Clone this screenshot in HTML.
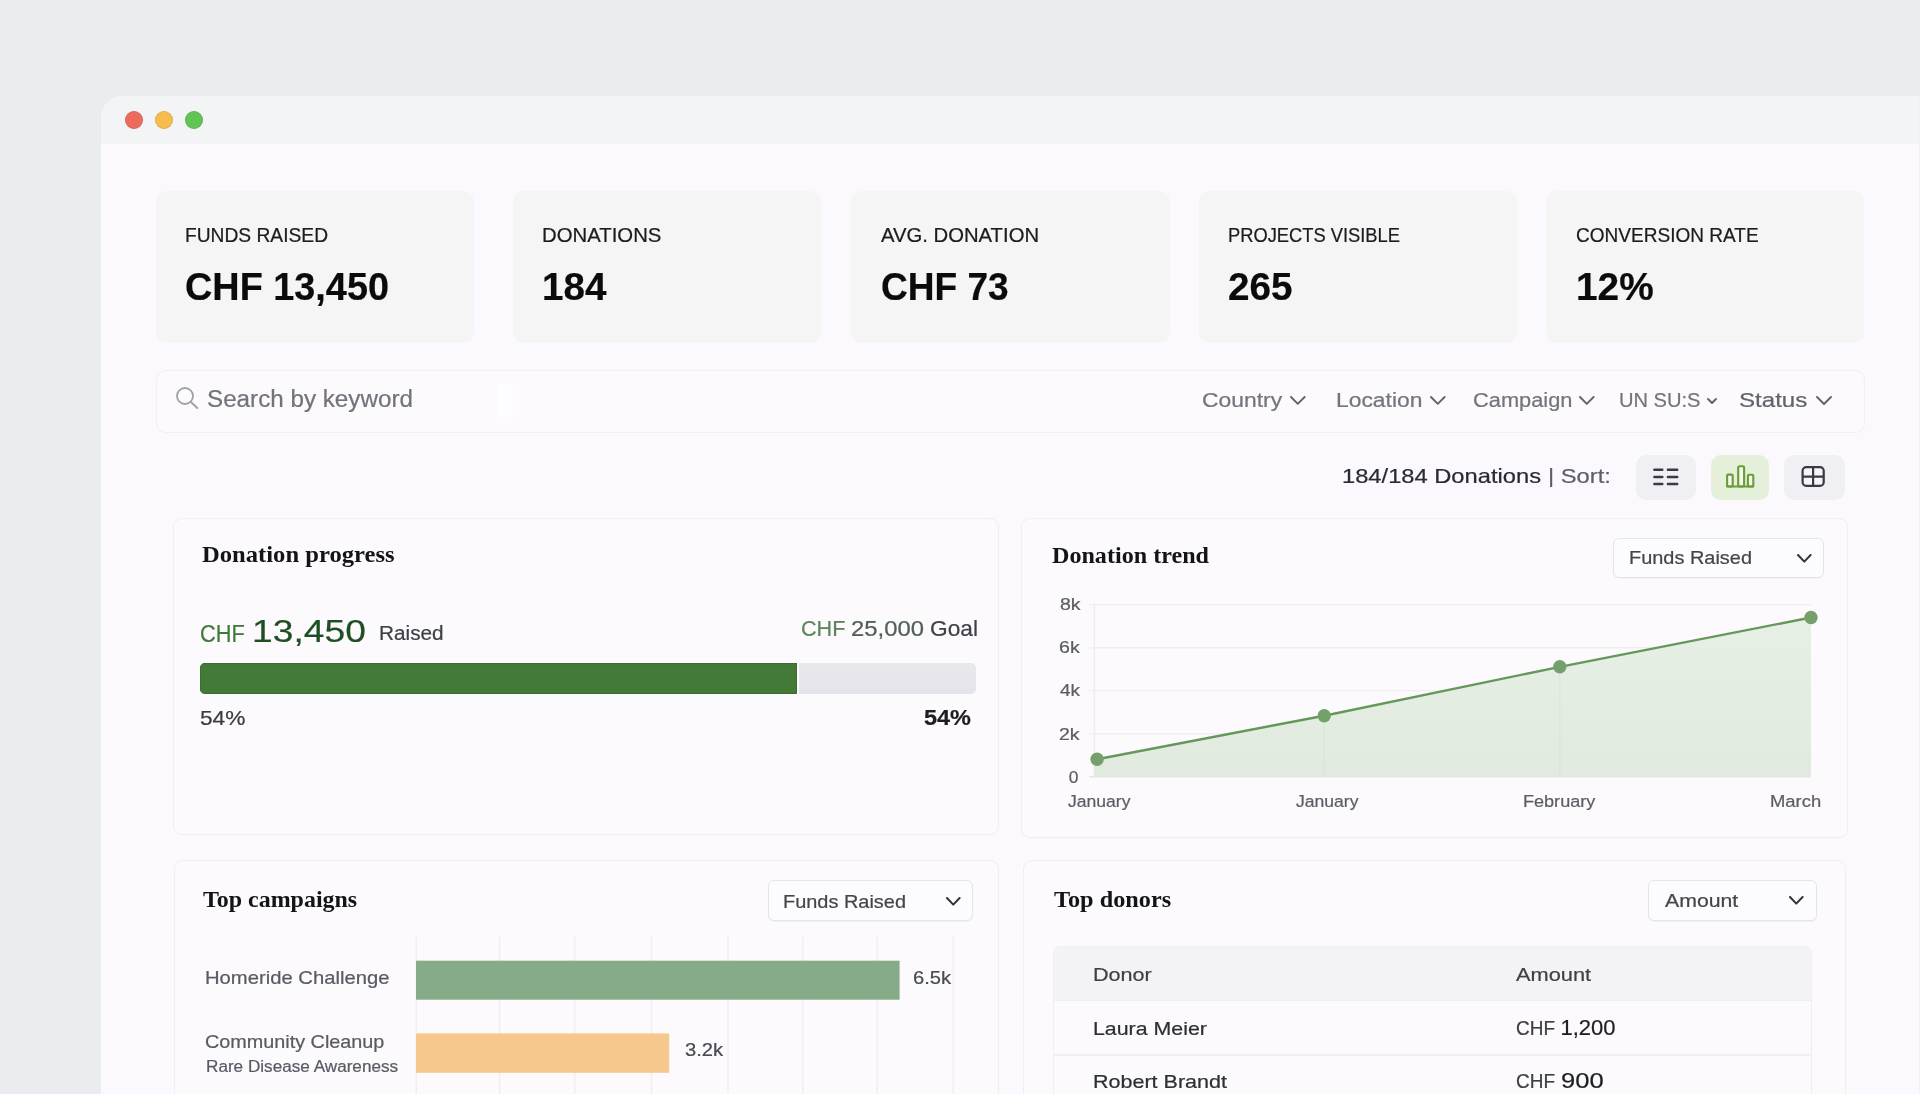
<!DOCTYPE html>
<html lang="en"><head><meta charset="utf-8"><title>Donations dashboard</title>
<style>
html,body{margin:0;padding:0}
body{width:1920px;height:1094px;overflow:hidden;position:relative;background:#EBECF0;font-family:"Liberation Sans", sans-serif;}
.b{position:absolute;display:block}
.t{position:absolute;white-space:pre;line-height:1;transform-origin:0 0}
.f{font-family:"Liberation Sans", sans-serif;-webkit-text-stroke-width:.22px}
.s{font-family:"Liberation Serif", serif}
.t{filter:blur(.3px)}
svg{filter:blur(.25px)}
</style></head>
<body>
<div class="b" style="left:101px;top:96px;width:1859.0px;height:1104.0px;background:#FBF9FD;border-radius:22px 0 0 0;overflow:hidden;"><div class="b" style="left:0;top:0;width:100%;height:48px;background:#F3F4F6"></div></div>
<div class="b" style="left:125px;top:111px;width:18.0px;height:18.0px;background:#EC6A5E;border-radius:50%;box-shadow:inset 0 0 0 .8px rgba(0,0,0,.10);"></div>
<div class="b" style="left:155px;top:111px;width:18.0px;height:18.0px;background:#F5BD4F;border-radius:50%;box-shadow:inset 0 0 0 .8px rgba(0,0,0,.10);"></div>
<div class="b" style="left:185px;top:111px;width:18.0px;height:18.0px;background:#61C454;border-radius:50%;box-shadow:inset 0 0 0 .8px rgba(0,0,0,.10);"></div>
<div class="b" style="left:155.6px;top:190.8px;width:318.0px;height:152.6px;background:#F5F5F6;border-radius:10px;"></div>
<div class="b" style="left:513px;top:190.8px;width:308.4px;height:152.6px;background:#F5F5F6;border-radius:10px;"></div>
<div class="b" style="left:850.8px;top:190.8px;width:318.8px;height:152.6px;background:#F5F5F6;border-radius:10px;"></div>
<div class="b" style="left:1199px;top:190.8px;width:318.0px;height:152.6px;background:#F5F5F6;border-radius:10px;"></div>
<div class="b" style="left:1546.4px;top:190.8px;width:318.1px;height:152.6px;background:#F5F5F6;border-radius:10px;"></div>
<div class="b" style="left:156px;top:369.5px;width:1709.0px;height:63.3px;border:1.5px solid #F0EFF3;border-radius:10px;box-sizing:border-box;background:#FCFAFD;"></div>
<div class="b" style="left:497.5px;top:385px;width:15.5px;height:32.0px;background:#FFFFFF;opacity:.4;border-radius:2px;"></div>
<svg class="b" style="left:172px;top:384px" width="30" height="30" viewBox="172 384 30 30"><circle cx="185" cy="396" r="8" fill="none" stroke="#A2A2AC" stroke-width="1.9"/><path d="M190.9 402 L197.3 408" stroke="#A2A2AC" stroke-width="2" stroke-linecap="round"/></svg>
<svg class="b" style="left:1289.4px;top:395.3px" width="17.6" height="10.8" viewBox="-2 -2 17.6 10.8"><path d="M0 0 L6.8 6.8 L13.6 0" fill="none" stroke="#62626C" stroke-width="1.9" stroke-linecap="round" stroke-linejoin="round"/></svg>
<svg class="b" style="left:1429.0px;top:395.3px" width="17.6" height="10.8" viewBox="-2 -2 17.6 10.8"><path d="M0 0 L6.8 6.8 L13.6 0" fill="none" stroke="#62626C" stroke-width="1.9" stroke-linecap="round" stroke-linejoin="round"/></svg>
<svg class="b" style="left:1577.6px;top:395.3px" width="17.6" height="10.8" viewBox="-2 -2 17.6 10.8"><path d="M0 0 L6.8 6.8 L13.6 0" fill="none" stroke="#62626C" stroke-width="1.9" stroke-linecap="round" stroke-linejoin="round"/></svg>
<svg class="b" style="left:1706.4px;top:396.7px" width="12" height="8.0" viewBox="-2 -2 12 8.0"><path d="M0 0 L4.0 4.0 L8 0" fill="none" stroke="#62626C" stroke-width="1.9" stroke-linecap="round" stroke-linejoin="round"/></svg>
<svg class="b" style="left:1815.4px;top:395.2px" width="18" height="11.0" viewBox="-2 -2 18 11.0"><path d="M0 0 L7.0 7.0 L14 0" fill="none" stroke="#62626C" stroke-width="1.9" stroke-linecap="round" stroke-linejoin="round"/></svg>
<div class="b" style="left:1636.2px;top:455px;width:59.8px;height:45.2px;background:#EFEFF4;border-radius:10px;"></div>
<div class="b" style="left:1710.6px;top:455px;width:58.8px;height:45.2px;background:#E5F0DB;border-radius:10px;"></div>
<div class="b" style="left:1783.8px;top:455px;width:61.0px;height:45.2px;background:#EFEFF4;border-radius:10px;"></div>
<svg class="b" style="left:1640px;top:460px" width="50" height="34" viewBox="1640 460 50 34"><g fill="none" stroke="#3A3A42" stroke-width="2.5" stroke-linecap="round"><path d="M1654.4 469.7 h7.9 M1667.9 469.7 h9.3"/><path d="M1654.4 476.9 h7.9 M1667.9 476.9 h9.3"/><path d="M1654.4 484 h7.9 M1667.9 484 h9.3"/></g></svg>
<svg class="b" style="left:1720px;top:460px" width="40" height="34" viewBox="1720 460 40 34"><g fill="#F3F9EC" stroke="#6A9C38" stroke-width="2.1" stroke-linejoin="round"><rect x="1727.1" y="474.6" width="5.6" height="11.9" rx="1.2"/><rect x="1738.2" y="466.2" width="5.9" height="20.3" rx="1.4"/><rect x="1747.9" y="474.8" width="5.4" height="11.7" rx="1.2"/><path d="M1727.1 486.5 H1753.3" stroke-linecap="round"/></g></svg>
<svg class="b" style="left:1795px;top:460px" width="40" height="34" viewBox="1795 460 40 34"><g fill="none" stroke="#3A3A42" stroke-width="2.2" stroke-linejoin="round"><rect x="1802.6" y="467.1" width="21.1" height="18.7" rx="3.6" fill="#F6F6F9"/><path d="M1802.6 476.6 H1823.7 M1813.1 467.1 V485.8"/></g></svg>
<div class="b" style="left:173.39999999999998px;top:517.9000000000001px;width:825.8px;height:317.5px;border:1.6px solid #EFEEF2;border-radius:9px;box-sizing:border-box;background:#FCFAFD;"></div>
<div class="b" style="left:1021.2px;top:517.9000000000001px;width:826.8px;height:320.1px;border:1.6px solid #EFEEF2;border-radius:9px;box-sizing:border-box;background:#FCFAFD;"></div>
<div class="b" style="left:174.39999999999998px;top:859.7px;width:824.8px;height:281.1px;border:1.6px solid #EFEEF2;border-radius:9px;box-sizing:border-box;background:#FCFAFD;"></div>
<div class="b" style="left:1023.0px;top:859.6px;width:823.4px;height:281.2px;border:1.6px solid #EFEEF2;border-radius:9px;box-sizing:border-box;background:#FCFAFD;"></div>
<div class="b" style="left:1919px;top:96px;width:1.0px;height:998.0px;background:#F1F0F4;"></div>
<div class="b" style="left:199.8px;top:663px;width:776.6px;height:31.2px;border-radius:5px;overflow:hidden;"><div class="b" style="left:0;top:0;width:597.4px;height:100%;background:#437A38;box-shadow:inset 0 0 0 1.2px #3A6F31"></div><div class="b" style="left:599.4px;top:0;right:0;height:100%;background:linear-gradient(#E8E7EC,#E5E4EA)"></div></div>
<div class="b" style="left:1613.2px;top:537.6px;width:211.2px;height:40.4px;border:1.6px solid #E5E4E9;border-radius:6px;box-sizing:border-box;background:#FCFBFD;box-shadow:0 1px 1px rgba(40,40,60,.04);"></div>
<svg class="b" style="left:1795.9px;top:552.6px" width="16.6" height="10.6" viewBox="-2 -2 16.6 10.6"><path d="M0 0 L6.3 6.6 L12.6 0" fill="none" stroke="#34343C" stroke-width="2" stroke-linecap="round" stroke-linejoin="round"/></svg>
<div class="b" style="left:767.8px;top:879.8px;width:205.4px;height:41.4px;border:1.6px solid #E5E4E9;border-radius:6px;box-sizing:border-box;background:#FCFBFD;box-shadow:0 1px 1px rgba(40,40,60,.04);"></div>
<svg class="b" style="left:944.7px;top:895.6px" width="16.6" height="10.6" viewBox="-2 -2 16.6 10.6"><path d="M0 0 L6.3 6.6 L12.6 0" fill="none" stroke="#34343C" stroke-width="2" stroke-linecap="round" stroke-linejoin="round"/></svg>
<div class="b" style="left:1648.4px;top:879.6px;width:168.2px;height:41.0px;border:1.6px solid #E5E4E9;border-radius:6px;box-sizing:border-box;background:#FCFBFD;box-shadow:0 1px 1px rgba(40,40,60,.04);"></div>
<svg class="b" style="left:1787.5px;top:895.2px" width="16.6" height="10.6" viewBox="-2 -2 16.6 10.6"><path d="M0 0 L6.3 6.6 L12.6 0" fill="none" stroke="#34343C" stroke-width="2" stroke-linecap="round" stroke-linejoin="round"/></svg>
<svg class="b" style="left:1040px;top:590px" width="800" height="200" viewBox="1040 590 800 200"><defs><linearGradient id="ag" x1="0" y1="0" x2="0" y2="1"><stop offset="0" stop-color="#E7F0E5"/><stop offset="1" stop-color="#E0EADE"/></linearGradient></defs><path d="M1089 604.6 H1811" stroke="#EFEEF2" stroke-width="1.4"/><path d="M1089 647.7 H1811" stroke="#EFEEF2" stroke-width="1.4"/><path d="M1089 690.6 H1811" stroke="#EFEEF2" stroke-width="1.4"/><path d="M1089 733.8 H1811" stroke="#EFEEF2" stroke-width="1.4"/><path d="M1094.4 604 V777" stroke="#EDECF1" stroke-width="1.4"/><polygon points="1094,759.9 1097.1,759.3 1324.2,715.7 1559.8,666.8 1811,617.5 1811,777 1094,777" fill="url(#ag)"/><path d="M1324.2 716 V777 M1559.8 667 V777" stroke="#DAE6D8" stroke-width="1.2"/><path d="M1089 776.8 H1811" stroke="#E2E8E1" stroke-width="1.4"/><polyline points="1097.1,759.3 1324.2,715.7 1559.8,666.8 1811,617.5" fill="none" stroke="#65975B" stroke-width="2.4" stroke-linejoin="round"/><circle cx="1097.1" cy="759.3" r="6.7" fill="#74A16B"/><circle cx="1324.2" cy="715.7" r="6.7" fill="#74A16B"/><circle cx="1559.8" cy="666.8" r="6.7" fill="#74A16B"/><circle cx="1811" cy="617.5" r="6.7" fill="#74A16B"/></svg>
<svg class="b" style="left:400px;top:930px" width="580" height="170" viewBox="400 930 580 170"><path d="M416.2 937 V1100" stroke="#EFEEF3" stroke-width="1.5"/><path d="M499.6 937 V1100" stroke="#EFEEF3" stroke-width="1.5"/><path d="M574.8 937 V1100" stroke="#EFEEF3" stroke-width="1.5"/><path d="M651.4 937 V1100" stroke="#EFEEF3" stroke-width="1.5"/><path d="M728 937 V1100" stroke="#EFEEF3" stroke-width="1.5"/><path d="M802.8 937 V1100" stroke="#EFEEF3" stroke-width="1.5"/><path d="M877.2 937 V1100" stroke="#EFEEF3" stroke-width="1.5"/><path d="M953.2 937 V1100" stroke="#EFEEF3" stroke-width="1.5"/><rect x="416" y="960.7" width="483.6" height="39" fill="#86AB88"/><rect x="416" y="1033.4" width="253.2" height="39.4" fill="#F6C88E"/></svg>
<div class="b" style="left:1053px;top:946.2px;width:759.2px;height:193.8px;border:1.5px solid #EFEEF2;border-radius:7px;box-sizing:border-box;overflow:hidden;background:#FCFAFD;"><div class="b" style="left:0;top:0;width:100%;height:53px;background:#F3F3F6;border-bottom:1.5px solid #F0EFF3"></div><div class="b" style="left:0;top:107px;width:100%;height:1.5px;background:#F0EFF3"></div></div>
<span class="t f" style="left:185.21px;top:225.71px;font-size:19.6px;color:#1C1C20;transform:scaleX(0.9803);">FUNDS RAISED</span>
<span class="t f" style="left:185.20px;top:268.01px;font-size:38.5px;color:#0B0B0D;font-weight:700;transform:scaleX(0.9827);">CHF 13,450</span>
<span class="t f" style="left:541.91px;top:225.71px;font-size:19.6px;color:#1C1C20;transform:scaleX(1.0384);">DONATIONS</span>
<span class="t f" style="left:542.11px;top:268.01px;font-size:38.5px;color:#0B0B0D;font-weight:700;transform:scaleX(1.0024);">184</span>
<span class="t f" style="left:880.92px;top:225.71px;font-size:19.6px;color:#1C1C20;transform:scaleX(1.0345);">AVG. DONATION</span>
<span class="t f" style="left:880.79px;top:268.01px;font-size:38.5px;color:#0B0B0D;font-weight:700;transform:scaleX(0.9629);">CHF 73</span>
<span class="t f" style="left:1227.85px;top:225.71px;font-size:19.6px;color:#1C1C20;transform:scaleX(0.9343);">PROJECTS VISIBLE</span>
<span class="t f" style="left:1228.07px;top:268.01px;font-size:38.5px;color:#0B0B0D;font-weight:700;transform:scaleX(1.0045);">265</span>
<span class="t f" style="left:1576.27px;top:225.71px;font-size:19.6px;color:#1C1C20;transform:scaleX(0.9715);">CONVERSION RATE</span>
<span class="t f" style="left:1575.71px;top:268.01px;font-size:38.5px;color:#0B0B0D;font-weight:700;transform:scaleX(1.0078);">12%</span>
<span class="t f" style="left:206.82px;top:387.53px;font-size:23px;color:#73737D;transform:scaleX(1.0529);">Search by keyword</span>
<span class="t f" style="left:1201.65px;top:390.07px;font-size:20px;color:#74747E;transform:scaleX(1.1434);">Country</span>
<span class="t f" style="left:1336.08px;top:390.07px;font-size:20px;color:#74747E;transform:scaleX(1.1425);">Location</span>
<span class="t f" style="left:1472.55px;top:390.07px;font-size:20px;color:#74747E;transform:scaleX(1.0913);">Campaign</span>
<span class="t f" style="left:1619.29px;top:390.07px;font-size:20px;color:#74747E;transform:scaleX(1.0050);">UN SU:S</span>
<span class="t f" style="left:1739.03px;top:389.65px;font-size:20.5px;color:#62626C;transform:scaleX(1.1755);">Status</span>
<span class="t f" style="left:1342.48px;top:465.22px;font-size:21px;color:#2A2A32;transform:scaleX(1.1286);">184/184 Donations</span>
<span class="t f" style="left:1548.23px;top:465.22px;font-size:21px;color:#5E5E68;transform:scaleX(1.1293);">| Sort:</span>
<span class="t s" style="left:201.80px;top:544.46px;font-size:22.5px;color:#141416;font-weight:700;transform:scaleX(1.0940);">Donation progress</span>
<span class="t f" style="left:200.10px;top:622.53px;font-size:23px;color:#3E7A3A;transform:scaleX(0.9460);">CHF</span>
<span class="t f" style="left:251.95px;top:615.31px;font-size:32px;color:#1E4F22;transform:scaleX(1.1633);-webkit-text-stroke:0.2px #1E4F22;">13,450</span>
<span class="t f" style="left:378.89px;top:624.09px;font-size:19.5px;color:#3F3F48;transform:scaleX(1.0639);">Raised</span>
<span class="t f" style="left:801.35px;top:617.78px;font-size:22px;color:#5B8558;transform:scaleX(0.9823);">CHF</span>
<span class="t f" style="left:851.26px;top:617.78px;font-size:22px;color:#4F6052;transform:scaleX(1.0832);">25,000</span>
<span class="t f" style="left:929.73px;top:617.78px;font-size:22px;color:#3F3F48;transform:scaleX(1.0318);">Goal</span>
<span class="t f" style="left:200.40px;top:706.82px;font-size:21px;color:#3A3A42;transform:scaleX(1.0805);">54%</span>
<span class="t f" style="left:924.19px;top:707.80px;font-size:21.5px;color:#1E1E22;font-weight:700;transform:scaleX(1.0906);">54%</span>
<span class="t s" style="left:1052.39px;top:545.36px;font-size:22.5px;color:#141416;font-weight:700;transform:scaleX(1.0715);">Donation trend</span>
<span class="t f" style="left:1629.07px;top:548.32px;font-size:19px;color:#44444D;transform:scaleX(1.0491);">Funds Raised</span>
<span class="t f" style="left:1059.56px;top:595.77px;font-size:17.4px;color:#5C5C66;transform:scaleX(1.1223);">8k</span>
<span class="t f" style="left:1059.15px;top:639.27px;font-size:17.4px;color:#5C5C66;transform:scaleX(1.1273);">6k</span>
<span class="t f" style="left:1060.06px;top:681.77px;font-size:17.4px;color:#5C5C66;transform:scaleX(1.0907);">4k</span>
<span class="t f" style="left:1059.24px;top:725.87px;font-size:17.4px;color:#5C5C66;transform:scaleX(1.1226);">2k</span>
<span class="t f" style="left:1068.82px;top:769.07px;font-size:17.4px;color:#5C5C66;">0</span>
<span class="t f" style="left:1067.72px;top:793.40px;font-size:16.3px;color:#5C5C66;transform:scaleX(1.0791);">January</span>
<span class="t f" style="left:1295.72px;top:793.40px;font-size:16.3px;color:#5C5C66;transform:scaleX(1.0791);">January</span>
<span class="t f" style="left:1522.51px;top:793.40px;font-size:16.3px;color:#5C5C66;transform:scaleX(1.1091);">February</span>
<span class="t f" style="left:1769.65px;top:793.40px;font-size:16.3px;color:#5C5C66;transform:scaleX(1.1308);">March</span>
<span class="t s" style="left:202.86px;top:889.46px;font-size:22.5px;color:#141416;font-weight:700;transform:scaleX(1.0644);">Top campaigns</span>
<span class="t f" style="left:782.54px;top:892.42px;font-size:19px;color:#44444D;transform:scaleX(1.0494);">Funds Raised</span>
<span class="t f" style="left:205.19px;top:968.59px;font-size:18.2px;color:#5A5A64;transform:scaleX(1.1123);">Homeride Challenge</span>
<span class="t f" style="left:912.64px;top:969.06px;font-size:18px;color:#4A4A54;transform:scaleX(1.1200);">6.5k</span>
<span class="t f" style="left:205.08px;top:1034.03px;font-size:17.8px;color:#5A5A64;transform:scaleX(1.1135);">Community Cleanup</span>
<span class="t f" style="left:205.89px;top:1059.23px;font-size:15.8px;color:#5A5A64;transform:scaleX(1.0848);">Rare Disease Awareness</span>
<span class="t f" style="left:684.69px;top:1041.06px;font-size:18px;color:#4A4A54;transform:scaleX(1.1222);">3.2k</span>
<span class="t s" style="left:1054.18px;top:889.06px;font-size:22.5px;color:#141416;font-weight:700;transform:scaleX(1.0784);">Top donors</span>
<span class="t f" style="left:1664.92px;top:891.22px;font-size:19px;color:#44444D;transform:scaleX(1.1186);">Amount</span>
<span class="t f" style="left:1093.27px;top:965.02px;font-size:19px;color:#3F3F48;transform:scaleX(1.1358);">Donor</span>
<span class="t f" style="left:1516.45px;top:965.02px;font-size:19px;color:#3F3F48;transform:scaleX(1.1470);">Amount</span>
<span class="t f" style="left:1093.33px;top:1019.32px;font-size:19px;color:#2E2E36;transform:scaleX(1.1233);">Laura Meier</span>
<span class="t f" style="left:1516.35px;top:1018.69px;font-size:19.5px;color:#3E3E46;transform:scaleX(0.9731);">CHF</span>
<span class="t f" style="left:1560.45px;top:1016.78px;font-size:22px;color:#1E1E22;">1,200</span>
<span class="t f" style="left:1093.28px;top:1071.52px;font-size:19px;color:#2E2E36;transform:scaleX(1.1326);">Robert Brandt</span>
<span class="t f" style="left:1516.35px;top:1072.29px;font-size:19.5px;color:#3E3E46;transform:scaleX(0.9731);">CHF</span>
<span class="t f" style="left:1560.71px;top:1069.78px;font-size:22px;color:#1E1E22;transform:scaleX(1.1616);">900</span>
</body></html>
